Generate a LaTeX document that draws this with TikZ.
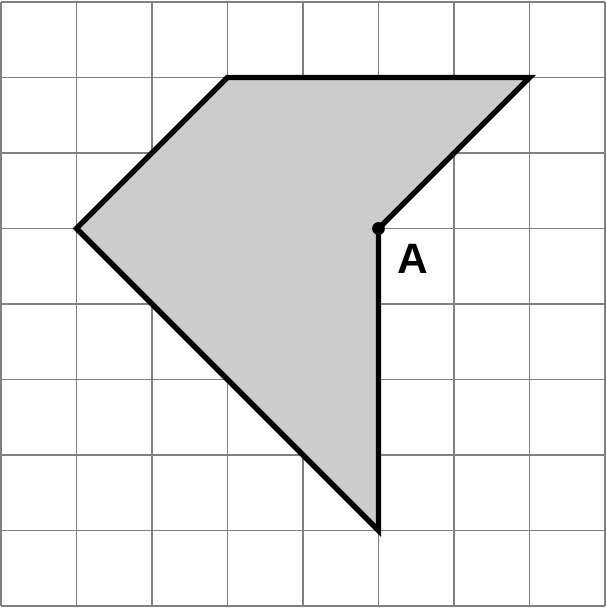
\documentclass[tikz,border=0pt]{standalone}
\usepackage{fontspec}
\setmainfont{Liberation Sans}
\usepackage{tikz}
\usetikzlibrary{positioning, calc}

\begin{document}
\begin{tikzpicture}[x=1cm, y=1cm]
    \useasboundingbox (-0.013,-0.026) rectangle (8.013,8.026);
    % Grid
    \draw[gray, line width=0.45pt] (0,0) grid (8,8);
    % Vertices
    \coordinate (P1) at (3,7);
    \coordinate (P2) at (7,7);
    \coordinate (A) at (5,5);
    \coordinate (P4) at (5,1);
    \coordinate (P5) at (1,5);
    % Shape
    \filldraw[fill=black!20, draw=black, line width=2pt, line join=miter]
        (P1) -- (P2) -- (A) -- (P4) -- (P5) -- cycle;
    % Point A
    \fill (A) circle (0.085);
    \node[font=\fontsize{16}{18}\selectfont\bfseries, anchor=center] (labA) at (5.46,4.6) {A};
\end{tikzpicture}
\end{document}
